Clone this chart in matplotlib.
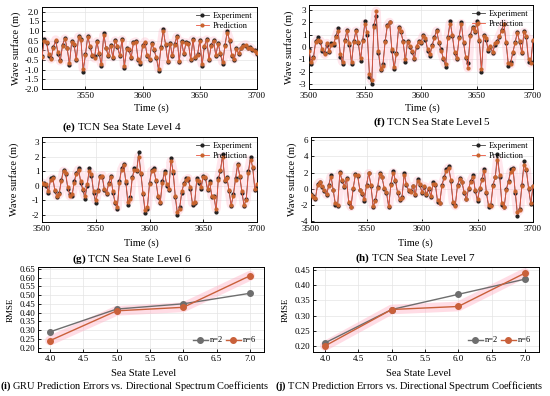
import numpy as np
import matplotlib
matplotlib.use('Agg')
import matplotlib.pyplot as plt
from matplotlib.ticker import FormatStrFormatter, MultipleLocator

plt.rcParams['font.family'] = ['Liberation Serif', 'DejaVu Serif']
plt.rcParams['mathtext.fontset'] = 'custom'
plt.rcParams['mathtext.bf'] = 'Liberation Serif:bold'
plt.rcParams['mathtext.rm'] = 'Liberation Serif'
plt.rcParams['axes.unicode_minus'] = False

###############
# wave series #
###############
# (e) level 4, 3512..3700 every 2 s
e_exp = [-0.3, 0.6, 0.4, -0.3, -0.4, 0.2, 0.5, -0.2, -0.5, 0.3,
         0.65, 0.1, -0.75, 0.5, 0.3, -0.5, 0.75, 0.6, -1.1, -0.2,
         0.75, 0.2, -0.3, -0.3, 0.5, -0.2, -0.8, 0.9, 0.1, -0.3,
         0.3, -0.4, 0.55, 0.2, -0.3, 0.6, -0.9, 0.1, 0.0, -0.4,
         0.45, 0.5, -0.5, -0.7, 0.3, 0.4, -0.3, -0.5, 0.4, 0.0,
         -0.4, -1.05, 0.2, 1.1, 0.3, -0.6, 0.4, -0.3, 0.35, 0.75,
         -0.6, 0.5, -0.2, 0.45, 0.4, -0.5, 0.6, -0.4, -0.2, 0.55,
         -0.8, 0.2, 0.6, -0.5, 0.3, 0.55, -0.3, 0.4, -0.2, -0.7,
         0.3, 1.0, 0.5, -0.3, -0.5, 0.1, -0.2, 0.1, 0.3, 0.25,
         0.1, 0.2, 0.0, 0.0, -0.2]
e_pred = [-0.35, 0.5, 0.45, -0.2, -0.45, 0.15, 0.55, -0.1, -0.55, 0.25,
          0.6, 0.15, -0.65, 0.45, 0.35, -0.45, 0.7, 0.55, -0.95, -0.25,
          0.7, 0.25, -0.25, -0.4, 0.45, -0.15, -0.7, 0.8, 0.15, -0.25,
          0.25, -0.35, 0.5, 0.25, -0.25, 0.55, -0.8, 0.05, 0.05, -0.35,
          0.4, 0.45, -0.45, -0.6, 0.25, 0.45, -0.25, -0.45, 0.35, 0.05,
          -0.35, -0.95, 0.15, 1.0, 0.35, -0.55, 0.35, -0.25, 0.3, 0.7,
          -0.55, 0.45, -0.15, 0.4, 0.35, -0.45, 0.55, -0.35, -0.25, 0.5,
          -0.7, 0.25, 0.55, -0.45, 0.25, 0.5, -0.25, 0.35, -0.15, -0.6,
          0.25, 0.9, 0.55, -0.25, -0.45, 0.05, -0.15, 0.15, 0.25, 0.3,
          0.15, 0.15, 0.05, -0.05, -0.15]

# (f) level 5, 3500..3700 every 2 s
f_exp = [-0.2, -1.4, -0.8, 0.5, 0.8, 0.4, -0.3, -0.5, 0.2, -0.4,
         0.3, 0.2, 0.9, 1.5, -0.8, -1.4, 0.6, 1.4, 0.2, -1.4,
         0.5, 1.4, 0.3, -1.1, 0.6, 2.1, 1.0, -2.4, -3.0, 1.8,
         2.5, -0.5, -1.9, -1.4, 0.5, 1.8, 2.0, -0.3, -1.8, -0.5,
         1.6, 1.2, 0.5, -1.2, 0.5, 0.0, -0.4, -1.0, 0.0, 0.5,
         0.3, 1.0, 0.6, -0.3, -0.7, 0.2, 0.8, 1.4, 0.3, -0.2,
         -1.0, -1.6, 0.8, 2.1, 0.9, -0.5, -1.0, 0.8, 2.0, 0.3,
         -0.9, -1.3, 1.0, 1.6, 1.2, 2.1, 0.5, -2.0, 1.0, 0.6,
         -0.3, 0.0, -0.5, 0.2, 0.5, 0.8, 1.4, 1.9, 0.3, -1.5,
         -1.2, -0.5, 0.4, 1.2, 0.4, -0.5, 1.3, 0.8, -1.2, -1.2,
         0.5]
f_pred = [-0.3, -1.2, -0.9, 0.4, 0.6, 0.5, -0.2, -0.6, 0.3, -0.3,
          0.2, 0.3, 0.8, 1.3, -0.6, -1.2, 0.5, 1.3, 0.3, -1.2,
          0.4, 1.3, 0.4, -0.9, 0.5, 1.9, 1.2, -2.2, -2.7, 1.6,
          2.9, -0.3, -1.8, -1.5, 0.4, 1.7, 2.0, -0.2, -1.6, -0.6,
          1.5, 1.3, 0.4, -1.0, 0.4, 0.1, -0.3, -0.9, 0.1, 0.4,
          0.4, 0.9, 0.7, -0.2, -0.6, 0.1, 0.7, 1.3, 0.4, -0.3,
          -0.9, -1.4, 0.7, 1.9, 1.0, -0.4, -0.9, 0.7, 1.9, 0.4,
          -0.8, -1.7, 0.9, 1.5, 1.3, 1.9, 0.6, -1.8, 0.9, 0.7,
          -0.2, 0.1, -0.4, 0.3, 0.4, 0.9, 1.3, 1.9, 0.4, -1.3,
          -1.4, -0.4, 0.3, 1.1, 0.5, -0.4, 1.2, 0.9, -1.0, -1.3,
          0.6]

# (g) level 6
g_exp = [0.1, 0.2, 0.0, -0.5, 0.5, 0.6, -0.4, -0.8, -0.5, 0.4,
         1.1, 0.8, -0.2, -0.6, -0.7, 0.3, 0.9, 1.2, 0.2, -0.3,
         -0.9, 0.0, 1.2, 0.7, -0.5, -1.2, -0.3, 0.7, 0.6, -0.3,
         -0.6, 0.2, 0.7, -0.5, -1.2, -1.6, 0.3, 1.2, 1.5, 0.2,
         -1.3, -0.8, 0.6, 1.2, 1.0, 2.3, 0.8, -0.6, -1.9, -1.6,
         0.2, 1.1, 1.2, 0.3, -0.8, -1.2, 0.3, 1.0, 0.0, -0.3,
         1.9, 0.9, -0.8, -2.0, -1.5, -0.5, 0.2, 0.5, 0.4, -0.2,
         -1.3, -1.2, 0.5, 0.2, -0.2, 0.7, 0.5, -0.3, 0.3, -0.8,
         -0.7, -1.8, 0.5, 1.0, 2.2, 0.3, 0.6, -0.4, -1.4, -0.6,
         0.5, 1.5, 0.6, -0.5, -1.4, -0.9, 1.0, 2.0, 1.2, -0.3,
         0.0]
g_pred = [0.2, 0.1, 0.1, -0.4, 0.4, 0.5, -0.3, -0.7, -0.6, 0.3,
          1.0, 0.9, -0.1, -0.7, -0.6, 0.2, 0.8, 1.1, 0.3, -0.2,
          -0.7, 0.1, 1.0, 0.8, -0.4, -1.0, -0.4, 0.6, 0.7, -0.2,
          -0.5, 0.1, 0.6, -0.4, -1.1, -1.5, 0.2, 1.1, 1.4, 0.3,
          -1.1, -0.9, 0.5, 1.1, 1.1, 2.0, 0.9, -0.5, -1.7, -1.5,
          0.1, 1.0, 1.1, 0.4, -0.7, -1.1, 0.2, 0.9, 0.1, -0.2,
          1.7, 1.0, -0.7, -1.8, -1.6, -0.4, 0.1, 0.4, 0.5, -0.1,
          -1.2, -1.1, 0.4, 0.3, -0.1, 0.6, 0.6, -0.2, 0.2, -0.7,
          -0.8, -1.6, 0.4, 1.1, 2.0, 0.4, 0.5, -0.3, -1.3, -0.7,
          0.4, 1.4, 0.7, -0.4, -1.3, -1.0, 0.9, 1.8, 1.3, -0.2,
          0.1]

# (h) level 7
h_exp = [-0.6, -0.9, -1.2, 0.6, 0.9, 0.2, -0.3, -0.8, 0.5, 1.7,
         -0.2, -2.0, -2.1, 2.1, 1.0, 0.2, 1.3, -1.8, -2.3, 0.0,
         1.8, 1.6, -0.2, -0.6, -1.5, 0.5, 2.0, 0.4, -2.3, -1.4,
         0.2, 2.0, 1.4, 0.0, -0.5, -2.3, 0.6, 2.2, 1.0, -0.5,
         -1.4, -1.0, 1.9, 0.5, -0.3, -0.3, 0.4, -0.8, 1.2, 0.5,
         -0.5, 0.2, -0.8, 0.0, -1.0, 0.8, 0.5, -1.6, -1.8, 0.5,
         1.5, 2.5, 2.8, 1.0, -1.8, -2.0, 0.5, 1.3, 0.8, -0.5,
         -1.3, 0.0, 1.0, 1.7, -0.3, -1.5, 0.0, 1.2, 2.5, -0.5,
         -2.2, -2.0, 0.5, 1.5, 4.3, 1.5, -2.0, -2.3, 0.0, 1.0,
         2.4, 2.6, -0.5, -3.3, -2.5, 0.5, 3.4, 2.3, 0.0, -1.9,
         0.3]
h_pred = [-0.8, -1.0, -1.1, 0.5, 0.8, 0.4, -0.2, -0.7, 0.4, 1.5,
          -0.1, -1.8, -2.0, 1.9, 1.1, 0.3, 1.2, -1.6, -2.2, 0.1,
          1.7, 1.7, -0.1, -0.5, -1.3, 0.4, 1.9, 0.5, -2.1, -1.5,
          0.1, 1.8, 1.5, 0.1, -0.4, -2.1, 0.5, 2.0, 1.1, -0.4,
          -1.3, -1.1, 1.7, 0.6, -0.2, -0.4, 0.3, -0.6, 1.0, 0.6,
          -0.4, 0.3, -0.6, 0.1, -0.9, 0.6, 0.6, -1.4, -1.7, 0.4,
          1.3, 2.2, 2.6, 1.1, -1.6, -2.1, 0.4, 1.2, 0.9, -0.4,
          -1.2, 0.1, 0.9, 1.5, -0.2, -1.3, 0.1, 1.1, 2.2, -0.4,
          -2.0, -2.1, 0.4, 1.4, 3.6, 1.7, -1.8, -2.2, -0.1, 0.9,
          2.1, 2.4, -0.3, -2.9, -2.6, 0.4, 3.0, 2.4, 0.1, -1.7,
          0.4]

###############
# RMSE panels #
###############
levels = [4.0, 5.0, 6.0, 7.0]
gru_n2 = [0.29, 0.42, 0.45, 0.51]
gru_n6 = [0.24, 0.41, 0.43, 0.61]
tcn_n2 = [0.21, 0.32, 0.37, 0.42]
tcn_n6 = [0.20, 0.32, 0.33, 0.44]

W, H = 550, 396
fig = plt.figure(figsize=(5.5, 3.96), dpi=100)


def box(l, t, r, b):
    return [l / W, 1 - b / H, (r - l) / W, (b - t) / H]


def style(ax):
    ax.tick_params(direction='in', labelsize=6.5, length=2.5, width=0.6, pad=2)
    ax.grid(True, color='#e4e4e4', lw=0.5)
    ax.set_axisbelow(True)
    for s in ax.spines.values():
        s.set_linewidth(0.7)


def wave(pos, t0, exp, pred, ylim, ystep, yfmt, xlim, xlab_x, xlab_y, title, title_x, title_y, ylab_x):
    ax = fig.add_axes(box(*pos))
    t = np.linspace(t0, 3700, len(exp))
    ax.plot(t, pred, color='#ffb3c6', lw=6.5, alpha=0.32, solid_capstyle='round', zorder=1)
    ax.plot(t, exp, color='#444444', lw=0.6, marker='o', ms=2.0, mfc='#222222', mec='#222222',
            label='Experiment', zorder=3)
    ax.plot(t, pred, color='#e8553f', lw=0.6, marker='o', ms=2.0, mfc='#c8642e', mec='#c8642e',
            label='Prediction', zorder=4)
    ax.set_xlim(*xlim)
    ax.set_ylim(*ylim)
    ax.xaxis.set_major_locator(MultipleLocator(50))
    ax.yaxis.set_major_locator(MultipleLocator(ystep))
    ax.yaxis.set_major_formatter(FormatStrFormatter(yfmt))
    style(ax)
    ax.legend(loc='upper right', fontsize=6, frameon=False, handlelength=1.6,
              borderpad=0.3, labelspacing=0.2, handletextpad=0.4, borderaxespad=0.3)
    fig.text(xlab_x / W, 1 - xlab_y / H, 'Time (s)', ha='center', va='center', fontsize=7.5)
    fig.text(ylab_x / W, 1 - (pos[1] + pos[3]) / 2 / H, 'Wave surface (m)', ha='center', va='center',
             rotation=90, fontsize=7.5)
    fig.text(title_x / W, 1 - title_y / H, title, ha='center', va='center', fontsize=8)
    return ax


wave((42, 7, 257, 89), 3512, e_exp, e_pred, (-2.0, 2.25), 0.5, '%.1f', (3512, 3700),
     151, 108, r'$\mathbf{(e)}$ TCN Sea State Level 4', 122, 127, 16)
wave((309, 5, 533, 89), 3500, f_exp, f_pred, (-3.4, 3.4), 1, '%d', (3500, 3700),
     422, 108, r'$\mathbf{(f)}$ TCN Sea State Level 5', 432, 122, 289)
wave((42, 137, 257, 222), 3500, g_exp, g_pred, (-2.5, 3.35), 1, '%d', (3500, 3700),
     141, 243, r'$\mathbf{(g)}$ TCN Sea State Level 6', 132, 259, 14)
wave((311, 137, 533, 222), 3500, h_exp, h_pred, (-4.1, 6.4), 2, '%d', (3500, 3700),
     415, 243, r'$\mathbf{(h)}$ TCN Sea State Level 7', 415, 258, 292)


def rmse(pos, n2, n6, ylim, title, title_x, xlab_x, ylab_x):
    ax = fig.add_axes(box(*pos))
    ax.plot(levels, n6, color='#ffb3c6', lw=7, alpha=0.45, solid_capstyle='round', zorder=1)
    ax.plot(levels, n2, color='#6e6e6e', lw=1.0, marker='o', ms=4, label='n=2', zorder=3)
    ax.plot(levels, n6, color='#c9603a', lw=1.0, marker='o', ms=4, label='n=6', zorder=4)
    ax.set_xlim(3.82, 7.21)
    ax.set_ylim(*ylim)
    ax.xaxis.set_major_locator(MultipleLocator(0.5))
    ax.xaxis.set_major_formatter(FormatStrFormatter('%.1f'))
    ax.yaxis.set_major_locator(MultipleLocator(0.05))
    ax.yaxis.set_major_formatter(FormatStrFormatter('%.2f'))
    style(ax)
    ax.legend(loc='lower right', ncol=2, fontsize=6, frameon=False, handlelength=1.8,
              columnspacing=0.3, handletextpad=0.3, borderaxespad=0.5)
    fig.text(xlab_x / W, 1 - 373 / H, 'Sea State Level', ha='center', va='center', fontsize=7.5)
    fig.text(ylab_x / W, 1 - (pos[1] + pos[3]) / 2 / H, 'RMSE', ha='center', va='center',
             rotation=90, fontsize=6.5)
    fig.text(title_x / W, 1 - 386 / H, title, ha='center', va='center', fontsize=7.5)


rmse((38, 267, 264, 352), gru_n2, gru_n6, (0.175, 0.66),
     r'$\mathbf{(i)}$ GRU Prediction Errors vs. Directional Spectrum Coefficients', 134, 144, 11)
rmse((313, 267, 539, 352), tcn_n2, tcn_n6, (0.18, 0.46),
     r'$\mathbf{(j)}$ TCN Prediction Errors vs. Directional Spectrum Coefficients', 409, 419, 286)

fig.savefig('out.png', dpi=100)
